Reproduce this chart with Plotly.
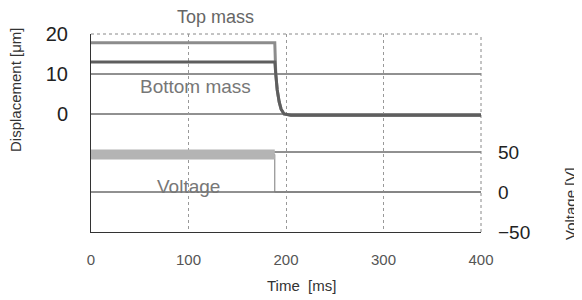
import plotly.graph_objects as go

# ---- data ----
time_ms = [0, 188.5, 189.5, 191, 193, 195, 198, 205, 400]
top_mass_um = [17.8, 17.8, 10.0, 6.0, 3.0, 1.2, 0.0, -0.3, -0.3]
bottom_mass_um = [13.0, 13.0, 10.0, 6.0, 3.0, 1.2, 0.0, -0.3, -0.3]

voltage_time_ms = [0, 188.5, 188.5, 400]
voltage_v = [47, 47, 0, 0]

x_ticks = [0, 100, 200, 300, 400]
disp_ticks = [0, 10, 20]
volt_ticks = [-50, 0, 50]
disp_grid = [0, 10]
volt_grid = [0, 50]

FONT = "Liberation Sans, Arial, sans-serif"

fig = go.Figure()

# voltage: thin line for full signal, thick band while voltage is on
fig.add_trace(go.Scatter(x=voltage_time_ms, y=voltage_v, yaxis="y2", mode="lines",
                         line=dict(color="#7a7a7a", width=1), showlegend=False))
on_t = [t for t, v in zip(voltage_time_ms, voltage_v) if v > 0]
on_v = [v for v in voltage_v if v > 0]
fig.add_trace(go.Scatter(x=on_t, y=on_v, yaxis="y2", mode="lines",
                         line=dict(color="#b4b4b4", width=10), showlegend=False))

fig.add_trace(go.Scatter(x=time_ms, y=top_mass_um, mode="lines",
                         line=dict(color="#8c8c8c", width=3), showlegend=False))
fig.add_trace(go.Scatter(x=time_ms, y=bottom_mass_um, mode="lines",
                         line=dict(color="#5e5e5e", width=3), showlegend=False))

shapes = []
for v in disp_grid:
    shapes.append(dict(type="line", xref="x domain", x0=0, x1=1, yref="y", y0=v, y1=v,
                       line=dict(color="#222", width=1), layer="below"))
for v in volt_grid:
    shapes.append(dict(type="line", xref="x domain", x0=0, x1=1, yref="y2", y0=v, y1=v,
                       line=dict(color="#222", width=1), layer="below"))
# dotted top and right frame
shapes.append(dict(type="line", xref="x domain", x0=0, x1=1, yref="y domain", y0=1, y1=1,
                   line=dict(color="#888", width=1, dash="dot"), layer="below"))
shapes.append(dict(type="line", xref="x domain", x0=1, x1=1, yref="y domain", y0=0, y1=1,
                   line=dict(color="#888", width=1, dash="dot"), layer="below"))

# page body has an 8px default margin, so shrink the figure accordingly
OFF = 8
W, H = 582 - OFF, 300 - OFF
L, R, T, B = 91 - OFF, 101, 34 - OFF, 68
pw, ph = W - L - R, H - T - B

def px(x, y):
    return (x - OFF - L) / pw, (H - B - (y - OFF)) / ph

annotations = []
def ann(text, x, y, size, color, angle=0):
    ax_, ay_ = px(x, y)
    annotations.append(dict(text=text, x=ax_, y=ay_, xref="paper", yref="paper",
                            xanchor="center", yanchor="middle", showarrow=False,
                            textangle=angle, font=dict(family=FONT, size=size, color=color)))

ann("Top mass", 215, 17, 18, "#666")
ann("Bottom mass", 195, 86, 19, "#777")
ann("Voltage", 188, 186, 19, "#777")
ann("Displacement [\u03bcm]", 15, 90, 15, "#333", -90)
ann("Voltage [V]", 570, 204, 15, "#333", -90)
ann("Time  [ms]", 301, 285, 15, "#333")

fig.update_layout(
    width=W, height=H,
    margin=dict(l=L, r=R, t=T, b=B, pad=0, autoexpand=False),
    paper_bgcolor="white", plot_bgcolor="white",
    shapes=shapes, annotations=annotations,
    xaxis=dict(range=[0, 400], tickvals=x_ticks, showgrid=True, gridcolor="#999",
               griddash="dot", gridwidth=1, zeroline=False, showline=True,
               linecolor="#333", linewidth=1, ticks="", ticklabelstandoff=14,
               automargin=False,
               tickfont=dict(family=FONT, size=15, color="#555")),
    yaxis=dict(range=[-29.5, 20], tickvals=disp_ticks, showgrid=False, zeroline=False,
               showline=True, linecolor="#333", linewidth=1, ticks="", automargin=False,
               ticklabelstandoff=18, tickfont=dict(family=FONT, size=20, color="#222")),
    yaxis2=dict(range=[-50, 197.5], tickvals=volt_ticks, overlaying="y", side="right",
                showgrid=False, zeroline=False, showline=False, ticks="", automargin=False,
                ticklabelstandoff=16, tickfont=dict(family=FONT, size=19, color="#222")),
)

fig.write_html("out.html")
